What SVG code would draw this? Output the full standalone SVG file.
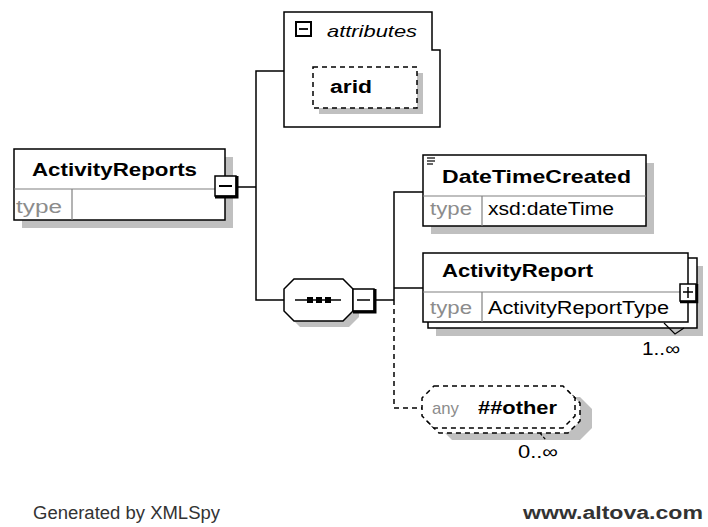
<svg xmlns="http://www.w3.org/2000/svg" width="708" height="527" viewBox="0 0 708 527">
<style>
.box{fill:#fff;stroke:#000;stroke-width:1.5}
.shadow{fill:#c0c0c0;stroke:none}
.sep{stroke:#808080;stroke-width:1.2;fill:none}
.ln{stroke:#000;stroke-width:1.5;fill:none}
.dash{stroke:#000;stroke-width:1.5;fill:none;stroke-dasharray:5,4}
.dbox{fill:#fff;stroke:#000;stroke-width:1.5;stroke-dasharray:5,4}
.t{font-family:"Liberation Sans",Arial,sans-serif;font-size:18px;fill:#000}
.b{font-weight:bold}
.g{fill:#8c8c8c}
</style>
<rect width="708" height="527" fill="#fff"/>
<g id="connectors">
<polyline class="ln" points="238,187 256,187"/>
<polyline class="ln" points="284,71 256,71 256,300 284,300"/>
<polyline class="ln" points="376,300 394,300"/>
<polyline class="ln" points="423,192 394,192 394,300"/>
<polyline class="ln" points="394,288 423,288"/>
<polyline class="dash" points="394,300 394,408 422,408"/>
</g>
<g id="ActivityReports">
<rect class="shadow" x="22" y="157" width="211" height="71"/>
<rect class="box" x="14" y="149" width="211" height="71"/>
<line class="sep" x1="14" y1="189" x2="225" y2="189"/>
<line class="sep" x1="72" y1="189" x2="72" y2="220"/>
<text class="t b" x="32" y="176" textLength="165" lengthAdjust="spacingAndGlyphs" style="font-size:19px">ActivityReports</text>
<text class="t g" x="16" y="213" textLength="46" lengthAdjust="spacingAndGlyphs">type</text>
<rect x="215" y="176" width="21" height="20" fill="#fff" stroke="#000" stroke-width="1.5"/>
<polyline points="237,176 237,197 215,197" fill="none" stroke="#000" stroke-width="3"/>
<line x1="219" y1="186" x2="232" y2="186" stroke="#000" stroke-width="2"/>
</g>
<g id="attributes">
<polygon class="box" points="284,12 432,12 432,50 440,50 440,127 284,127"/>
<rect x="296" y="22" width="15" height="14" fill="#fff" stroke="#000" stroke-width="2"/>
<line x1="299" y1="29" x2="308" y2="29" stroke="#000" stroke-width="1.8"/>
<text class="t" x="327" y="37" font-style="italic" textLength="90" lengthAdjust="spacingAndGlyphs" style="font-size:17px">attributes</text>
</g>
<g id="arid">
<rect class="shadow" x="319" y="73" width="104" height="41"/>
<rect class="dbox" x="313" y="67" width="104" height="41"/>
<text class="t b" x="330" y="93" textLength="42" lengthAdjust="spacingAndGlyphs">arid</text>
</g>
<g id="sequence">
<polygon class="shadow" points="300,285 349,285 359,295 359,317 349,327 300,327 290,317 290,295"/>
<polygon class="box" points="294,279 343,279 353,289 353,311 343,321 294,321 284,311 284,289"/>
<line x1="295" y1="300" x2="341" y2="300" stroke="#000" stroke-width="1.5"/>
<rect x="307" y="297" width="6" height="6" fill="#000"/>
<rect x="316" y="297" width="6" height="6" fill="#000"/>
<rect x="325" y="297" width="6" height="6" fill="#000"/>
<rect x="353" y="289" width="21" height="22" fill="#fff" stroke="#000" stroke-width="1.5"/>
<polyline points="375,289 375,312 353,312" fill="none" stroke="#000" stroke-width="3"/>
<line x1="357" y1="300" x2="370" y2="300" stroke="#000" stroke-width="1.5"/>
</g>
<g id="DateTimeCreated">
<rect class="shadow" x="431" y="163" width="223" height="71"/>
<rect class="box" x="423" y="155" width="223" height="71"/>
<line class="sep" x1="423" y1="196" x2="646" y2="196"/>
<line class="sep" x1="482" y1="196" x2="482" y2="226"/>
<line x1="427" y1="158" x2="435" y2="158" stroke="#000" stroke-width="1.2"/>
<line x1="427" y1="161" x2="435" y2="161" stroke="#000" stroke-width="1.2"/>
<line x1="427" y1="164" x2="433" y2="164" stroke="#000" stroke-width="1.2"/>
<text class="t b" x="442" y="183" textLength="189" lengthAdjust="spacingAndGlyphs" style="font-size:19px">DateTimeCreated</text>
<text class="t g" x="430" y="215" textLength="42" lengthAdjust="spacingAndGlyphs">type</text>
<text class="t" x="488" y="215" textLength="126" lengthAdjust="spacingAndGlyphs">xsd:dateTime</text>
</g>
<g id="ActivityReport">
<rect class="shadow" x="436" y="266" width="267" height="70"/>
<rect class="box" x="428" y="258" width="269" height="70"/>
<rect class="box" x="423" y="253" width="265" height="69"/>
<line class="sep" x1="423" y1="292" x2="688" y2="292"/>
<line class="sep" x1="482" y1="292" x2="482" y2="322"/>
<text class="t b" x="442" y="277" textLength="151" lengthAdjust="spacingAndGlyphs" style="font-size:19px">ActivityReport</text>
<text class="t g" x="430" y="314" textLength="42" lengthAdjust="spacingAndGlyphs">type</text>
<text class="t" x="488" y="314" textLength="181" lengthAdjust="spacingAndGlyphs">ActivityReportType</text>
<rect x="680" y="284" width="16" height="17" fill="#fff" stroke="#000" stroke-width="1.5"/>
<polyline points="697,284 697,302 680,302" fill="none" stroke="#000" stroke-width="2.5"/>
<line x1="683" y1="292" x2="693" y2="292" stroke="#000" stroke-width="1.5"/>
<line x1="688" y1="287" x2="688" y2="298" stroke="#000" stroke-width="1.5"/>
<polyline points="664,323 675,334 684,328" fill="none" stroke="#000" stroke-width="1.2"/>
<text class="t" x="642" y="355" textLength="38" lengthAdjust="spacingAndGlyphs">1..∞</text>
</g>
<g id="any">
<polygon class="shadow" points="452,397 580,397 592,409 592,428 580,440 452,440 440,428 440,409"/>
<polygon class="dbox" points="439,391 568,391 580,403 580,421 568,433 439,433 427,421 427,403"/>
<polygon class="dbox" points="434,386 563,386 575,398 575,416 563,428 434,428 422,416 422,398"/>
<text class="t g" x="432" y="414" textLength="27" lengthAdjust="spacingAndGlyphs" style="font-size:17px">any</text>
<text class="t b" x="478" y="414" textLength="79" lengthAdjust="spacingAndGlyphs">##other</text>
<polyline points="540,433 546,440" fill="none" stroke="#000" stroke-width="1.2" stroke-dasharray="3,2"/>
<text class="t" x="518" y="458" textLength="40" lengthAdjust="spacingAndGlyphs">0..∞</text>
</g>
<g id="footer">
<text x="33" y="519" font-family="Liberation Sans,Arial,sans-serif" font-size="18" fill="#333" textLength="187" lengthAdjust="spacingAndGlyphs">Generated by XMLSpy</text>
<text x="523" y="519" font-family="Liberation Sans,Arial,sans-serif" font-size="18" font-weight="bold" fill="#333" textLength="180" lengthAdjust="spacingAndGlyphs">www.altova.com</text>
</g>
</svg>
